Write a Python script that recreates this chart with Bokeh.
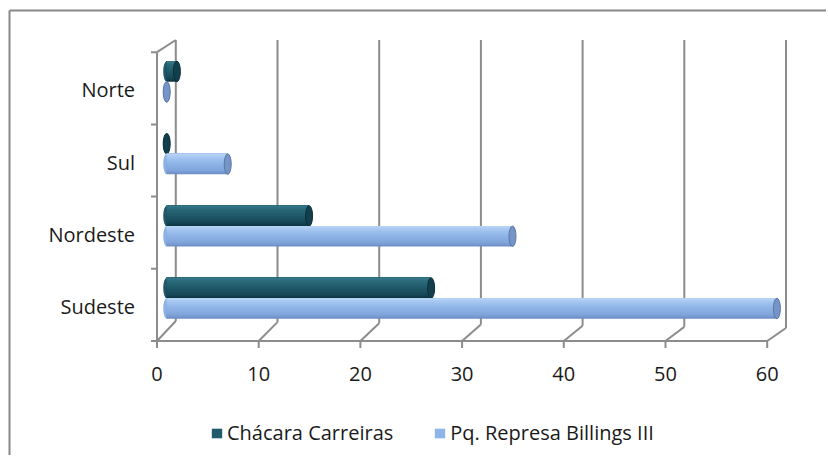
from bokeh.plotting import figure
from bokeh.models import Range1d, Legend, LegendItem
from bokeh.core.properties import value
from bokeh.embed import file_html
from bokeh.resources import INLINE

# ---- data ----
categories = ["Sudeste", "Nordeste", "Sul", "Norte"]          # bottom -> top
chacara_carreiras = [26, 14, 0, 1]
pq_represa_billings = [60, 34, 6, 0]
x_ticks = [0, 10, 20, 30, 40, 50, 60]
x_tick_labels = ["0", "10", "20", "30", "40", "50", "60"]
series_names = ["Chácara Carreiras", "Pq. Represa Billings III"]

# ---- styling / geometry (screen px -> data units) ----
W, H = 826, 455
GRAY = "#8c8c8c"
TXT = "#1a1a1a"
FONT = "Open Sans"
OX, OY = 156.5, 340.5      # page position of value 0 / category baseline
PX_X = 10.17               # px per value unit
PX_Y = 72.2                # px per category unit


def ux(px):   # screen x -> data x
    return (px - OX) / PX_X


def uy(py):   # screen y -> data y
    return (OY - py) / PX_Y


DX = 18.8 / PX_X
Y_TOP = uy(39.5)
BAR_H = 20.5 / PX_Y
X0 = 9.7 / PX_X
CAP_W = 7.0 / PX_X

p = figure(width=W, height=H, output_backend="svg", toolbar_location=None,
           x_range=Range1d(ux(0), ux(W)), y_range=Range1d(uy(H), uy(0)),
           x_axis_location=None, y_axis_location=None,
           min_border=0)
p.outline_line_color = None
p.xgrid.visible = False
p.ygrid.visible = False
p.background_fill_color = "white"
p.border_fill_color = "white"

# chart border (top + left visible)
p.segment([ux(9), ux(9)], [uy(10), uy(10)], [ux(W), ux(9)], [uy(10), uy(H)],
          line_color="#888888", line_width=2)

# back wall: diagonals + vertical grid lines
def dy_units(v):
    return (20 - 7 * v / 60.0) / PX_Y


sx0, sy0, sx1, sy1 = [], [], [], []
for v in x_ticks:
    sx0.append(v); sy0.append(0)
    sx1.append(v + DX); sy1.append(dy_units(v))
    sx0.append(v + DX); sy0.append(dy_units(v))
    sx1.append(v + DX); sy1.append(Y_TOP)
sx0.append(0); sy0.append(len(categories))
sx1.append(DX); sy1.append(Y_TOP)
p.segment(sx0, sy0, sx1, sy1, line_color=GRAY, line_width=2)

# front axes
n = len(categories)
p.segment([0, 0], [0, 0], [x_ticks[-1], 0], [0, n], line_color=GRAY, line_width=2)
# x ticks
p.segment(x_ticks, [0] * len(x_ticks), x_ticks, [-7 / PX_Y] * len(x_ticks),
          line_color=GRAY, line_width=2)
# y ticks at category boundaries
p.segment([0] * (n + 1), list(range(n + 1)), [-6 / PX_X] * (n + 1), list(range(n + 1)),
          line_color=GRAY, line_width=2)
# tick labels
p.text(x=x_ticks, y=[uy(373)] * len(x_ticks), text=x_tick_labels,
       text_font=value(FONT), text_font_size="20px", text_color=TXT,
       text_align="center", text_baseline="middle")
p.text(x=[-22 / PX_X] * n, y=[i + 0.5 - 1.5 / PX_Y for i in range(n)], text=categories,
       text_font=value(FONT), text_font_size="20px", text_color=TXT,
       text_align="right", text_baseline="middle")


# cylinders
def hex2rgb(h):
    h = h.lstrip("#")
    return [int(h[i:i + 2], 16) for i in (0, 2, 4)]


def interp(stops, t):
    for (t0, c0), (t1, c1) in zip(stops, stops[1:]):
        if t0 <= t <= t1:
            f = (t - t0) / (t1 - t0) if t1 > t0 else 0
            a, b = hex2rgb(c0), hex2rgb(c1)
            return "#%02x%02x%02x" % tuple(int(round(a[k] + (b[k] - a[k]) * f)) for k in range(3))
    return stops[-1][1]


series = [
    (chacara_carreiras, 0.733,
     [(0, "#3a7c8c"), (0.15, "#2a6a7a"), (0.45, "#215b6b"), (0.8, "#17495a"), (1, "#0c3340")],
     "#123f4b", "#0b2f39"),
    (pq_represa_billings, 0.45,
     [(0, "#bcd6f6"), (0.15, "#a6c7f1"), (0.45, "#8fb5e8"), (0.8, "#80a5db"), (1, "#6a8cc2")],
     "#7794c6", "#5877ab"),
]
NS = 12
K_LEGEND = 5
legend_items = []
for name, (vals, off, stops, capc, capl) in zip(series_names, series):
    m = len(vals)
    # left rounded end
    p.ellipse(x=[X0] * m, y=[i + off for i in range(m)],
              width=CAP_W, height=BAR_H, fill_color=interp(stops, 0.5), line_color=None)
    # gradient body: nested rectangles anchored at the top edge (no seams)
    left, right, top, bottom, cols = [], [], [], [], []
    for k in range(NS - 1, -1, -1):
        for i, v in enumerate(vals):
            yc = i + off
            left.append(X0)
            right.append(X0 + v)
            top.append(yc + BAR_H / 2)
            bottom.append(yc + BAR_H / 2 - (k + 1) * BAR_H / NS)
            cols.append(interp(stops, (k + 0.5) / NS))
    body = p.quad(left=left, right=right, top=top, bottom=bottom,
                  fill_color=cols, line_color=None)
    # end cap
    p.ellipse(x=[X0 + v for v in vals], y=[i + off for i in range(m)],
              width=CAP_W, height=BAR_H, fill_color=capc, line_color=capl, line_width=1)
    legend_items.append(LegendItem(label=name, renderers=[body],
                                   index=(NS - 1 - K_LEGEND) * m))

legend = Legend(items=legend_items,
                orientation="horizontal", location=(210, 9),
                glyph_width=13, glyph_height=12, label_standoff=4, spacing=40,
                padding=0, margin=0, border_line_color=None, background_fill_alpha=0,
                label_text_font=FONT, label_text_font_size="20px", label_text_color=TXT)
p.add_layout(legend, "center")

open("out.html", "w").write(file_html(p, INLINE))
